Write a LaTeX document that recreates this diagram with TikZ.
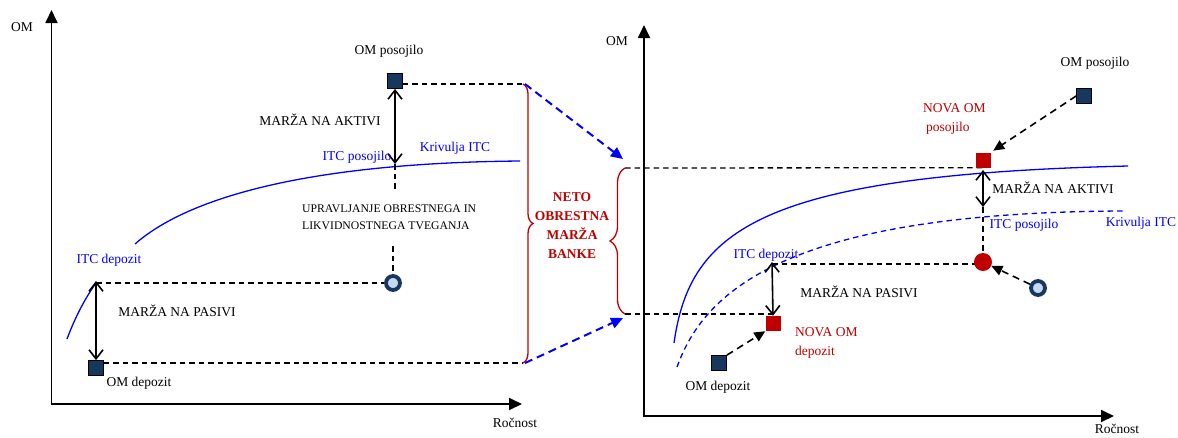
\documentclass[tikz,border=0pt]{standalone}
\usepackage{fontspec}
\setmainfont{Liberation Serif}
\usetikzlibrary{arrows.meta,decorations.pathreplacing,backgrounds}
\definecolor{navy}{HTML}{17375E}
\definecolor{darkred}{HTML}{C00000}
\definecolor{lightfill}{HTML}{C6D9F1}

\begin{document}
\begin{tikzpicture}[x=1pt,y=-1pt,
  axisline/.style={line width=1.8pt,-{Triangle[length=13pt,width=12pt]}},
  dsh/.style={black,line width=1.3pt,dash pattern=on 5.5pt off 4pt},
  dbl/.style={line width=1.6pt,{Straight Barb[length=9pt,width=14pt]}-{Straight Barb[length=9pt,width=14pt]}},
  bluearr/.style={blue,line width=2pt,dash pattern=on 8pt off 5pt,-{Triangle[length=12pt,width=11pt]}},
  blkarr/.style={black,line width=1.6pt,dash pattern=on 7pt off 5pt,-{Triangle[length=11pt,width=10pt]}},
  itc/.style={blue,line width=1.3pt},
  itcdash/.style={blue,line width=1.3pt,dash pattern=on 5.5pt off 4pt},
  sqnavy/.style={rectangle,draw=black,fill=navy,line width=0.8pt,minimum size=15pt,inner sep=0pt},
  sqred/.style={rectangle,fill=darkred,minimum size=15pt,inner sep=0pt},
  ring/.style={circle,draw=navy,fill=lightfill,line width=3.8pt,minimum size=14pt,inner sep=0pt},
  dotred/.style={circle,fill=darkred,minimum size=18pt,inner sep=0pt},
  txt/.style={font=\fontsize{13.5}{16}\selectfont,inner sep=0pt},
  smalltxt/.style={font=\fontsize{11.7}{17}\selectfont,inner sep=0pt,align=left},
  bluetxt/.style={txt,text=blue},
  redtxt/.style={txt,text=darkred,align=left,font=\fontsize{13.5}{19}\selectfont},
  bracestyle/.style={darkred,line width=1.3pt,decorate}
]
\useasboundingbox (0,0) rectangle (1178,437);

% ---------- left chart ----------
\coordinate (LO) at (51.5,404);
\coordinate (LYend) at (51.5,10);
\coordinate (LXend) at (522,404);
\node[txt] (Lom) at (22,27) {OM};
\node[txt] (Lroc) at (515,423) {Ročnost};

\node[sqnavy] (Lpos) at (395,81) {};
\node[sqnavy] (Ldep) at (96,368) {};
\node[ring] (Lring) at (393,283) {};

\coordinate (LpC) at (395,164);   % loan rate on the curve
\coordinate (LpD) at (395,190);
\coordinate (LrU) at (393,246);
\coordinate (LdC) at (96,283);    % deposit rate on the curve
\coordinate (LbT) at (523,84);
\coordinate (LbB) at (523,363);

\node[txt] (Lpostxt) at (389,51) {OM posojilo};
\node[txt] (Laktiv) at (320,120) {MARŽA NA AKTIVI};
\node[bluetxt] (Litcpos) at (357,157) {ITC posojilo};
\node[bluetxt] (Lkriv) at (455,148) {Krivulja ITC};
\node[smalltxt,anchor=west] (Lupr) at (302,217.5) {UPRAVLJANJE OBRESTNEGA IN\\LIKVIDNOSTNEGA TVEGANJA};
\node[bluetxt] (Litcdep) at (109,260) {ITC depozit};
\node[txt] (Lpasiv) at (177,311) {MARŽA NA PASIVI};
\node[txt] (Ldeptxt) at (139,383) {OM depozit};

% ---------- middle ----------
\node[txt,text=darkred,font=\bfseries\fontsize{13.5}{19}\selectfont,align=center] (neto) at (572,226)
  {NETO\\OBRESTNA\\MARŽA\\BANKE};
\coordinate (RaT) at (623,159);
\coordinate (RaB) at (623,318);
\coordinate (RbT) at (625,168);
\coordinate (RbB) at (625,314);

% ---------- right chart ----------
\coordinate (RO) at (644,416);
\coordinate (RYend) at (644,25);
\coordinate (RXend) at (1114,416);
\node[txt] (Rom) at (617,41) {OM};
\node[txt] (Rroc) at (1117,428.5) {Ročnost};

\node[sqnavy] (Rpos) at (1084,96) {};
\node[sqred] (Rnpos) at (983,160) {};
\node[sqnavy] (Rdep) at (719,363) {};
\node[sqred] (Rndep) at (773,323.5) {};
\node[dotred] (Rcirc) at (983,262) {};
\node[ring] (Rring) at (1038,288) {};

\coordinate (RpC) at (983,170);
\coordinate (RpD) at (983,207);
\coordinate (RdC) at (772,264);

\node[txt] (Rpostxt) at (1095,63) {OM posojilo};
\node[redtxt,anchor=west] (Rnpostxt) at (923,118.5) {NOVA OM\\\hspace*{3pt}posojilo};
\node[txt] (Raktiv) at (1053,188) {MARŽA NA AKTIVI};
\node[bluetxt] (Ritcpos) at (1024,225) {ITC posojilo};
\node[bluetxt] (Rkriv) at (1141,223) {Krivulja ITC};
\node[bluetxt] (Ritcdep) at (766,255) {ITC depozit};
\node[txt] (Rpasiv) at (859,292) {MARŽA NA PASIVI};
\node[redtxt,anchor=west] (Rndeptxt) at (795,342.5) {NOVA OM\\depozit};
\node[txt] (Rdeptxt) at (718,387) {OM depozit};

\begin{pgfonlayer}{background}
  % axes
  \draw[axisline] (LO) -- (LYend);
  \draw[axisline] ([xshift=-0.9pt]LO) -- (LXend);
  \draw[axisline] (RO) -- (RYend);
  \draw[axisline] ([xshift=-0.9pt]RO) -- (RXend);

  % left yield curve
  \coordinate (LcA) at (135,244);
  \coordinate (LcB) at (520,161);
  \draw[itc] (LcA) .. controls (185,200) and (300,163) .. (LcB);
  \coordinate (LcC) at (67,339);
  \draw[itc] (LcC) .. controls (76,315) and (86,297) .. (LdC);

  % left guide lines
  \draw[dsh] (Lpos.east |- LbT) -- (LbT);
  \draw[dsh] (LpC) -- (LpD);
  \draw[dsh] (LrU) -- (Lring);
  \draw[dsh] (LdC) -- (Lring);
  \draw[dsh] (Ldep.east |- LbB) -- (LbB);
  \draw[dbl] (Lpos.south) -- (LpC);
  \draw[dbl] ([yshift=2pt]LdC) -- (Ldep.north);

  % braces and transfer arrows
  \draw[bracestyle,decoration={brace,amplitude=10pt}] (LbT) -- (LbB);
  \draw[bracestyle,decoration={brace,amplitude=15pt}] (RbB) -- (RbT);
  \draw[bluearr] ([xshift=2pt]LbT) -- (RaT);
  \draw[bluearr] ([xshift=2pt]LbB) -- (RaB);

  % right yield curves
  \coordinate (RcA) at (674,343);
  \coordinate (RcB) at (1128,166);
  \draw[itc] (RcA) .. controls (690,230) and (760,175) .. (RcB);
  \coordinate (RdA) at (677,367);
  \coordinate (RdB) at (1125,211);
  \draw[itcdash] (RdA) .. controls (703,295) and (780,212) .. (RdB);

  % right guide lines
  \draw[dsh] (RbT) -- (Rnpos.south);
  \draw[dsh] (RbB) -- (RbB -| Rndep);
  \draw[dsh] (RdC) -- (RdC -| Rcirc);
  \draw[dsh] (RpD) -- (Rcirc);
  \draw[dbl] (RpC) -- (RpD);
  \draw[dbl] ([yshift=2pt]RdC) -- (Rndep.north);

  % shifts of the bank rates
  \draw[blkarr] (Rdep.north east) -- (Rndep.south west);
  \draw[blkarr,shorten >=3pt] (Rpos.west) -- (Rnpos.north east);
  \draw[blkarr] (Rring) -- (Rcirc);
\end{pgfonlayer}
\end{tikzpicture}
\end{document}
